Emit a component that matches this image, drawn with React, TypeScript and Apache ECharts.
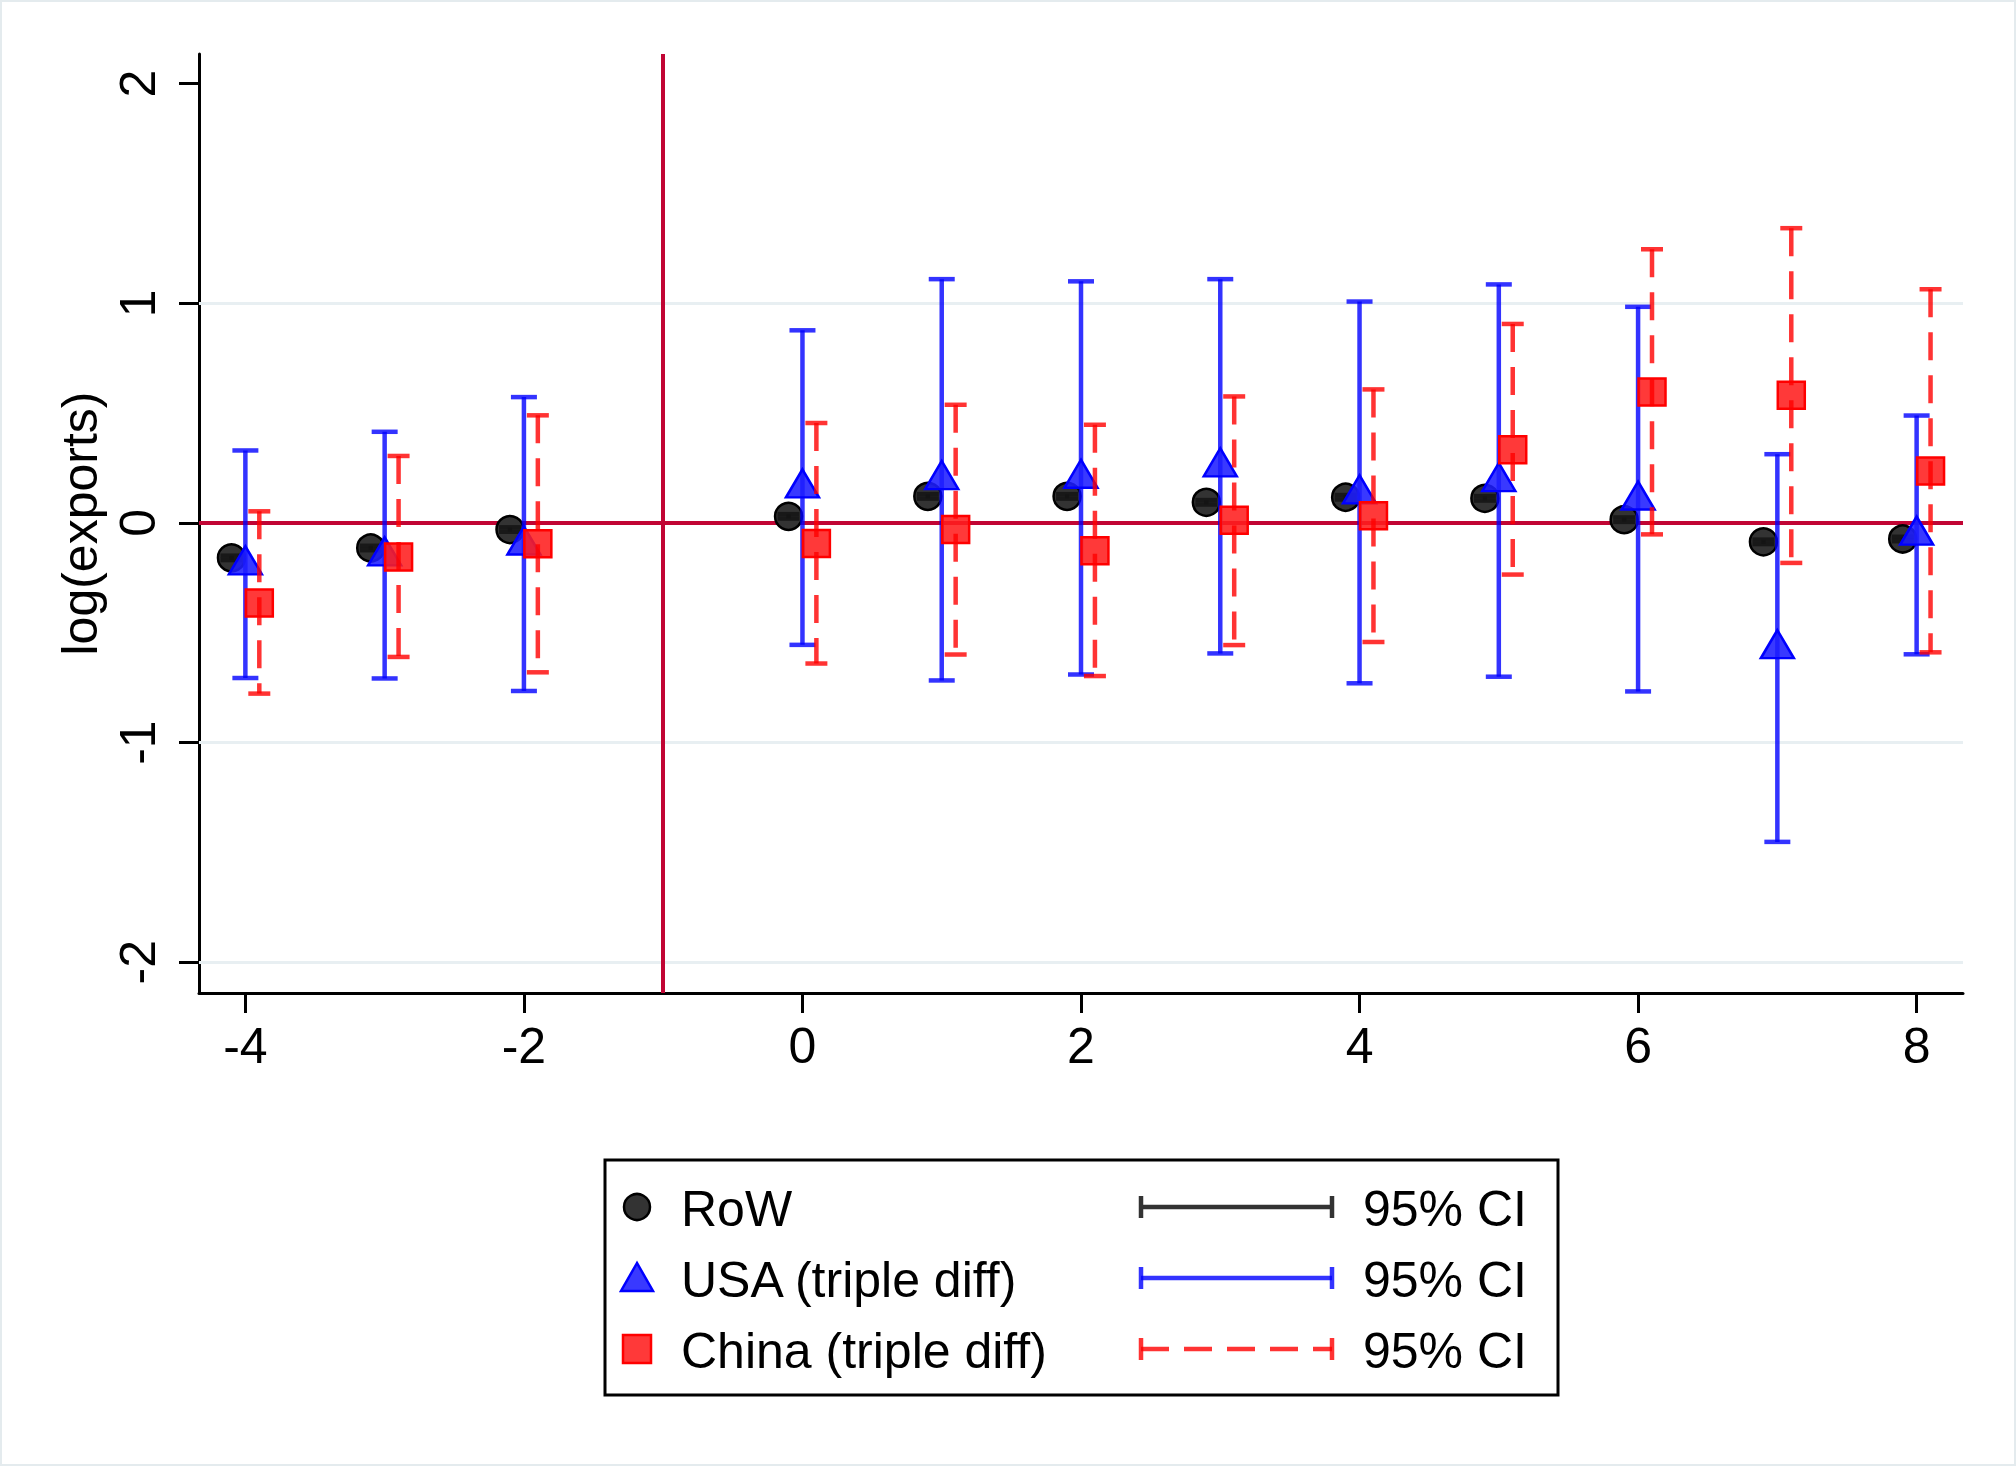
import React, { useEffect, useRef } from "react";
import * as echarts from "echarts";

// ---------- data ----------
const PERIODS = [-4, -3, -2, 0, 1, 2, 3, 4, 5, 6, 7, 8];

const ROW_EST = [-0.159, -0.114, -0.03, 0.03, 0.121, 0.121, 0.094, 0.117, 0.112, 0.015, -0.086, -0.073];
const ROW_LO = [-0.169, -0.124, -0.04, 0.02, 0.111, 0.111, 0.084, 0.107, 0.102, 0.005, -0.096, -0.083];
const ROW_HI = [-0.149, -0.104, -0.02, 0.04, 0.131, 0.131, 0.104, 0.127, 0.122, 0.025, -0.076, -0.063];

const USA_EST = [-0.17, -0.129, -0.08, 0.18, 0.218, 0.224, 0.276, 0.153, 0.209, 0.125, -0.552, -0.035];
const USA_LO = [-0.706, -0.708, -0.765, -0.555, -0.717, -0.69, -0.594, -0.73, -0.7, -0.767, -1.452, -0.598];
const USA_HI = [0.33, 0.415, 0.573, 0.877, 1.11, 1.1, 1.11, 1.008, 1.086, 0.984, 0.313, 0.489];

const CHN_EST = [-0.365, -0.155, -0.095, -0.094, -0.03, -0.126, 0.012, 0.033, 0.333, 0.596, 0.581, 0.236];
const CHN_LO = [-0.777, -0.61, -0.68, -0.64, -0.599, -0.697, -0.556, -0.542, -0.235, -0.052, -0.182, -0.589];
const CHN_HI = [0.053, 0.305, 0.49, 0.455, 0.538, 0.447, 0.576, 0.608, 0.906, 1.246, 1.342, 1.064];

const X_TICKS = [-4, -2, 0, 2, 4, 6, 8];
const Y_TICKS = [-2, -1, 0, 1, 2];
const GRID_Y = [-2, -1, 1];
const EVENT_X = -1;
const ZERO_Y = 0;

const SERIES_NAMES = ["RoW", "USA (triple diff)", "China (triple diff)"];
const CI_LABEL = "95% CI";
const Y_TITLE = "log(exports)";

// ---------- styles ----------
const FONT = "'Liberation Sans', Arial, Helvetica, sans-serif";
const OFFSET_ROW = -0.1;
const OFFSET_USA = 0;
const OFFSET_CHN = 0.1;
const C_ROW_FILL = "#333333";
const C_ROW_EDGE = "#000000";
const C_ROW_CI = "rgba(20,20,20,0.85)";
const C_USA_FILL = "rgba(30,30,255,0.88)";
const C_USA_EDGE = "#0000ff";
const C_USA_CI = "rgba(0,0,255,0.8)";
const C_CHN_FILL = "rgba(255,30,30,0.88)";
const C_CHN_EDGE = "#ff0000";
const C_CHN_CI = "rgba(255,0,0,0.8)";
const C_REF = "#c10534";
const C_GRID = "#e8eff2";
const DASH = [28, 15];
const CI_WIDTH = 4.5;

function ciRenderer(color: string, dash: number[] | null, capHalf: number) {
  return (params: any, api: any) => {
    const x = api.value(0);
    const lo = api.value(1);
    const hi = api.value(2);
    const pHi = api.coord([x, hi]);
    const pLo = api.coord([x, lo]);
    return {
      type: "group",
      children: [
        {
          type: "line",
          shape: { x1: pHi[0], y1: pHi[1], x2: pLo[0], y2: pLo[1] },
          style: { stroke: color, lineWidth: CI_WIDTH, lineDash: dash || undefined },
        },
        {
          type: "line",
          shape: { x1: pHi[0] - capHalf, y1: pHi[1], x2: pHi[0] + capHalf, y2: pHi[1] },
          style: { stroke: color, lineWidth: CI_WIDTH },
        },
        {
          type: "line",
          shape: { x1: pLo[0] - capHalf, y1: pLo[1], x2: pLo[0] + capHalf, y2: pLo[1] },
          style: { stroke: color, lineWidth: CI_WIDTH },
        },
      ],
    };
  };
}

function ciData(offset: number, lo: number[], hi: number[]) {
  return PERIODS.map((p, i) => [p + offset, lo[i], hi[i]]);
}
function ptData(offset: number, est: number[]) {
  return PERIODS.map((p, i) => [p + offset, est[i]]);
}

export default function App() {
  const ref = useRef<HTMLDivElement>(null);

  useEffect(() => {
    document.body.style.margin = "0";
    const chart = echarts.init(ref.current!, null, { renderer: "svg" });

    const legendX = 605;
    const legendY = 1160;
    const rowY = [1207, 1278, 1349];
    const ciX1 = 1141;
    const ciX2 = 1332;
    const ciColors = ["#333333", "rgba(0,0,255,0.8)", "rgba(255,0,0,0.8)"];

    const legendGraphics: any[] = [
      {
        type: "rect",
        shape: { x: legendX, y: legendY, width: 953, height: 235 },
        style: { fill: "#ffffff", stroke: "#000000", lineWidth: 3 },
        z: 20,
      },
      {
        type: "circle",
        shape: { cx: 637, cy: rowY[0], r: 13 },
        style: { fill: C_ROW_FILL, stroke: C_ROW_EDGE, lineWidth: 2.5 },
        z: 21,
      },
      {
        type: "polygon",
        shape: { points: [[637, rowY[1] - 15], [621, rowY[1] + 13], [653, rowY[1] + 13]] },
        style: { fill: C_USA_FILL, stroke: C_USA_EDGE, lineWidth: 2.5 },
        z: 21,
      },
      {
        type: "rect",
        shape: { x: 623, y: rowY[2] - 14, width: 28, height: 28 },
        style: { fill: C_CHN_FILL, stroke: C_CHN_EDGE, lineWidth: 2.5 },
        z: 21,
      },
    ];
    SERIES_NAMES.forEach((name, i) => {
      legendGraphics.push({
        type: "text",
        x: 681,
        y: rowY[i] + 2,
        style: { text: name, fontSize: 50, fontFamily: FONT, fill: "#000", verticalAlign: "middle", align: "left" },
        z: 21,
      });
      legendGraphics.push({
        type: "text",
        x: 1363,
        y: rowY[i] + 2,
        style: { text: CI_LABEL, fontSize: 50, fontFamily: FONT, fill: "#000", verticalAlign: "middle", align: "left" },
        z: 21,
      });
      legendGraphics.push({
        type: "line",
        shape: { x1: ciX1, y1: rowY[i], x2: ciX2, y2: rowY[i] },
        style: { stroke: ciColors[i], lineWidth: CI_WIDTH, lineDash: i === 2 ? DASH : undefined },
        z: 21,
      });
      legendGraphics.push({
        type: "line",
        shape: { x1: ciX1, y1: rowY[i] - 11, x2: ciX1, y2: rowY[i] + 11 },
        style: { stroke: ciColors[i], lineWidth: CI_WIDTH },
        z: 21,
      });
      legendGraphics.push({
        type: "line",
        shape: { x1: ciX2, y1: rowY[i] - 11, x2: ciX2, y2: rowY[i] + 11 },
        style: { stroke: ciColors[i], lineWidth: CI_WIDTH },
        z: 21,
      });
    });

    const option: any = {
      animation: false,
      backgroundColor: "#ffffff",
      textStyle: { fontFamily: FONT },
      grid: { left: 199, right: 53, top: 54, bottom: 473, containLabel: false, outerBoundsMode: "none" },
      xAxis: {
        type: "value",
        min: -4.333,
        max: 8.333,
        axisLine: { show: true, onZero: false, lineStyle: { color: "#000", width: 3 } },
        axisTick: { show: true, customValues: X_TICKS, length: 20, lineStyle: { color: "#000", width: 3 } },
        axisLabel: { customValues: X_TICKS, fontSize: 50, color: "#000", margin: 28, fontFamily: FONT },
        splitLine: { show: false },
      },
      yAxis: {
        type: "value",
        min: -2.14,
        max: 2.135,
        name: Y_TITLE,
        nameLocation: "middle",
        nameRotate: 90,
        nameGap: 88,
        nameTextStyle: { fontSize: 50, color: "#000", fontFamily: FONT },
        axisLine: { show: true, onZero: false, lineStyle: { color: "#000", width: 3 } },
        axisTick: { show: true, customValues: Y_TICKS, length: 20, lineStyle: { color: "#000", width: 3 } },
        axisLabel: { customValues: Y_TICKS, rotate: 90, fontSize: 50, color: "#000", margin: 36, fontFamily: FONT },
        splitLine: { show: false },
      },
      graphic: [
        {
          type: "rect",
          shape: { x: 1, y: 1, width: 2014, height: 1464 },
          style: { fill: "none", stroke: "#e4ebee", lineWidth: 2 },
          z: 0,
          silent: true,
        },
        ...legendGraphics,
      ],
      series: [
        {
          type: "line",
          name: "gridlines",
          data: [],
          silent: true,
          markLine: {
            silent: true,
            symbol: ["none", "none"],
            z: 1,
            label: { show: false },
            lineStyle: { color: C_GRID, width: 3, type: "solid" },
            data: GRID_Y.map((v) => ({ yAxis: v })),
          },
        },
        {
          type: "line",
          name: "reference",
          data: [],
          silent: true,
          markLine: {
            silent: true,
            symbol: ["none", "none"],
            z: 2,
            label: { show: false },
            lineStyle: { color: C_REF, width: 4, type: "solid" },
            data: [{ yAxis: ZERO_Y }, { xAxis: EVENT_X }],
          },
        },
        {
          type: "scatter",
          name: SERIES_NAMES[0],
          z: 3,
          symbol: "circle",
          symbolSize: 27,
          itemStyle: { color: C_ROW_FILL, borderColor: C_ROW_EDGE, borderWidth: 2.5, opacity: 1 },
          data: ptData(OFFSET_ROW, ROW_EST),
        },
        {
          type: "custom",
          name: SERIES_NAMES[0] + " CI",
          z: 4,
          renderItem: ciRenderer(C_ROW_CI, null, 11),
          encode: { x: 0, y: [1, 2] },
          data: ciData(OFFSET_ROW, ROW_LO, ROW_HI),
        },
        {
          type: "custom",
          name: SERIES_NAMES[1] + " CI",
          z: 5,
          renderItem: ciRenderer(C_USA_CI, null, 13),
          encode: { x: 0, y: [1, 2] },
          data: ciData(OFFSET_USA, USA_LO, USA_HI),
        },
        {
          type: "scatter",
          name: SERIES_NAMES[1],
          z: 6,
          symbol: "triangle",
          symbolSize: [33, 28],
          itemStyle: { color: C_USA_FILL, borderColor: C_USA_EDGE, borderWidth: 2.5, opacity: 1 },
          data: ptData(OFFSET_USA, USA_EST),
        },
        {
          type: "scatter",
          name: SERIES_NAMES[2],
          z: 7,
          symbol: "rect",
          symbolSize: 27,
          itemStyle: { color: C_CHN_FILL, borderColor: C_CHN_EDGE, borderWidth: 2.5, opacity: 1 },
          data: ptData(OFFSET_CHN, CHN_EST),
        },
        {
          type: "custom",
          name: SERIES_NAMES[2] + " CI",
          z: 8,
          renderItem: ciRenderer(C_CHN_CI, DASH, 11),
          encode: { x: 0, y: [1, 2] },
          data: ciData(OFFSET_CHN, CHN_LO, CHN_HI),
        },
      ],
    };

    chart.setOption(option);
    return () => chart.dispose();
  }, []);

  return <div ref={ref} style={{ width: 2016, height: 1466, background: "#ffffff" }} />;
}
